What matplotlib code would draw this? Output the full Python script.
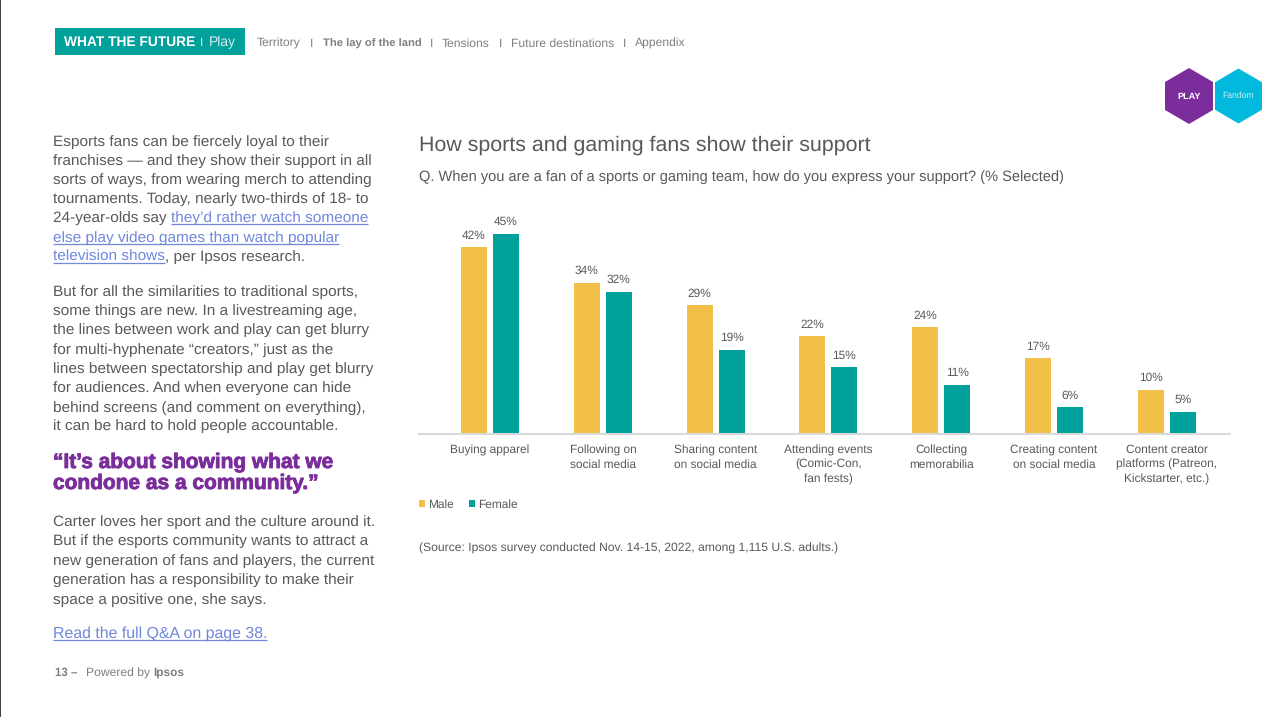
import numpy as np
import matplotlib
matplotlib.use("Agg")
import matplotlib.pyplot as plt
import matplotlib.patheffects as pe
from matplotlib.patches import Rectangle, Polygon

plt.rcParams['font.family'] = ['Liberation Sans', 'DejaVu Sans']
plt.rcParams['text.hinting'] = 'no_hinting'

categories = ['Buying apparel', 'Following on\nsocial media', 'Sharing content\non social media',
              'Attending events\n(Comic-Con,\nfan fests)', 'Collecting\nmemorabilia',
              'Creating content\non social media', 'Content creator\nplatforms (Patreon,\nKickstarter, etc.)']
male = [42, 34, 29, 22, 24, 17, 10]
female = [45, 32, 19, 15, 11, 6, 5]

TEAL = '#00a09b'
YELLOW = '#f2bf49'
PURPLE = '#7b2d9b'
GREY = '#595959'
NAV = '#7f7f7f'
LINK = '#6f87dd'

W, H = 1277, 717
fig = plt.figure(figsize=(W / 100, H / 100), dpi=100)

# page layer in pixel coords, y going down
page = fig.add_axes([0, 0, 1, 1])
page.set_xlim(0, W)
page.set_ylim(H, 0)
page.axis('off')

page.add_patch(Rectangle((0, 0), 1.2, H, color='#404040', lw=0))

# header
page.add_patch(Rectangle((55, 28), 190, 27, color=TEAL, lw=0))
page.text(64, 46, 'WHAT THE FUTURE', color='white', fontsize=9.9, fontweight='bold', va='baseline')
page.text(200, 46, 'I', color='#d5eeee', fontsize=8.6, va='baseline')
page.text(209, 46, 'Play', color='#d5eeee', fontsize=10, va='baseline')

nav = [(257, 'Territory', 'normal'), (310, 'I', 'normal'), (323, 'The lay of the land', 'bold'),
       (430, 'I', 'normal'), (442, 'Tensions', 'normal'), (499, 'I', 'normal'),
       (511, 'Future destinations', 'normal'), (623, 'I', 'normal'), (635, 'Appendix', 'normal')]
for x, s, w in nav:
    size = 8.1 if w == 'bold' else 8.7
    page.text(x, 46.6, s, color=NAV, fontsize=size, fontweight=w, va='baseline')


def hexagon(cx, cy, rx, ry, color):
    pts = [(cx, cy - ry), (cx + rx, cy - ry / 2), (cx + rx, cy + ry / 2),
           (cx, cy + ry), (cx - rx, cy + ry / 2), (cx - rx, cy - ry / 2)]
    page.add_patch(Polygon(pts, closed=True, color=color, lw=0))


hexagon(1189, 96, 24, 28, PURPLE)
hexagon(1238.5, 96, 23.5, 27.5, '#00b9dc')
page.text(1189, 96.5, 'PLAY', color='white', fontsize=6.6, fontweight='bold', ha='center', va='center')
page.text(1238, 95.5, 'Fandom', color='#c9eef6', fontsize=6.2, ha='center', va='center')

# left column, y is the text baseline
body = [
    (146, 'Esports fans can be fiercely loyal to their'),
    (165, 'franchises — and they show their support in all'),
    (184, 'sorts of ways, from wearing merch to attending'),
    (203, 'tournaments. Today, nearly two-thirds of 18- to'),
    (222, '24-year-olds say '),
    (296, 'But for all the similarities to traditional sports,'),
    (315, 'some things are new. In a livestreaming age,'),
    (334, 'the lines between work and play can get blurry'),
    (354, 'for multi-hyphenate “creators,” just as the'),
    (373, 'lines between spectatorship and play get blurry'),
    (392, 'for audiences. And when everyone can hide'),
    (412, 'behind screens (and comment on everything),'),
    (430, 'it can be hard to hold people accountable.'),
    (526, 'Carter loves her sport and the culture around it.'),
    (545, 'But if the esports community wants to attract a'),
    (565, 'new generation of fans and players, the current'),
    (584, 'generation has a responsibility to make their'),
    (604, 'space a positive one, she says.'),
]
BODY_SIZE = 11.05
for y, s in body:
    page.text(53, y, s, color=GREY, fontsize=BODY_SIZE, va='baseline')


def link(x, y, s, size=BODY_SIZE):
    t = page.text(x, y, s, color=LINK, fontsize=size, va='baseline')
    bb = t.get_window_extent(fig.canvas.get_renderer())
    page.plot([bb.x0, bb.x1], [y + 1.5, y + 1.5], color=LINK, lw=0.9, solid_capstyle='butt')
    return bb.x1


r = fig.canvas.get_renderer()
t0 = page.text(53, 222, '24-year-olds say', fontsize=BODY_SIZE, alpha=0)
link(t0.get_window_extent(r).x1 + 4, 222, 'they’d rather watch someone')
link(53, 242, 'else play video games than watch popular')
x_end = link(53, 261, 'television shows')
page.text(x_end, 261, ', per Ipsos research.', color=GREY, fontsize=BODY_SIZE, va='baseline')
link(53, 638, 'Read the full Q&A on page 38.', size=11.47)

heavy = [pe.withStroke(linewidth=0.6, foreground=PURPLE)]
page.text(53, 468, '“It’s about showing what we', color=PURPLE, fontsize=15.05, fontweight='bold',
          va='baseline', path_effects=heavy)
page.text(53, 489, 'condone as a community.”', color=PURPLE, fontsize=15.05, fontweight='bold',
          va='baseline', path_effects=heavy)

page.text(55, 676, '13 –', color=NAV, fontsize=8.3, fontweight='bold', va='baseline')
page.text(86, 676.6, 'Powered by', color=NAV, fontsize=8.7, va='baseline')
page.text(153, 676, 'Ipsos', color=NAV, fontsize=8.6, fontweight='bold', va='baseline')

# chart titles
page.text(419, 151, 'How sports and gaming fans show their support', color=GREY, fontsize=15.37, va='baseline')
page.text(419, 181, 'Q. When you are a fan of a sports or gaming team, how do you express your support? (% Selected)',
          color=GREY, fontsize=10.55, va='baseline')

# bars
top, bottom, left, right = 200, 434, 419, 1230
ax = fig.add_axes([left / W, 1 - bottom / H, (right - left) / W, (bottom - top) / H])
ax.patch.set_alpha(0)
x = np.arange(len(categories))
bar_w = 0.23
off = 0.142
b1 = ax.bar(x - off, male, bar_w, color=YELLOW, label='Male')
b2 = ax.bar(x + off, female, bar_w, color=TEAL, label='Female')
ax.set_xlim(-0.63, 6.56)
ax.set_ylim(0, 234 / (200 / 45))
for bars, vals in ((b1, male), (b2, female)):
    ax.bar_label(bars, labels=[f'{v}%' for v in vals], padding=4.5, fontsize=8.6, color=GREY)
for s in ('top', 'left', 'right'):
    ax.spines[s].set_visible(False)
ax.spines['bottom'].set_color('#d9d9d9')
ax.spines['bottom'].set_linewidth(1.5)
ax.set_yticks([])
ax.set_xticks(x)
ax.set_xticklabels(categories, fontsize=8.6, color=GREY, linespacing=1.39)
ax.tick_params(axis='x', length=0, pad=7.5)

leg = ax.legend(loc='upper left', bbox_to_anchor=(0, -0.278), ncol=2, frameon=False,
                fontsize=8.6, handlelength=0.5, handleheight=0.5, handletextpad=0.27,
                columnspacing=1.25, borderpad=0, borderaxespad=0, labelcolor=GREY)

page.text(419, 551.6, '(Source: Ipsos survey conducted Nov. 14-15, 2022, among 1,115 U.S. adults.)',
          color=GREY, fontsize=8.72, va='baseline')

fig.savefig('out.png', dpi=100)
